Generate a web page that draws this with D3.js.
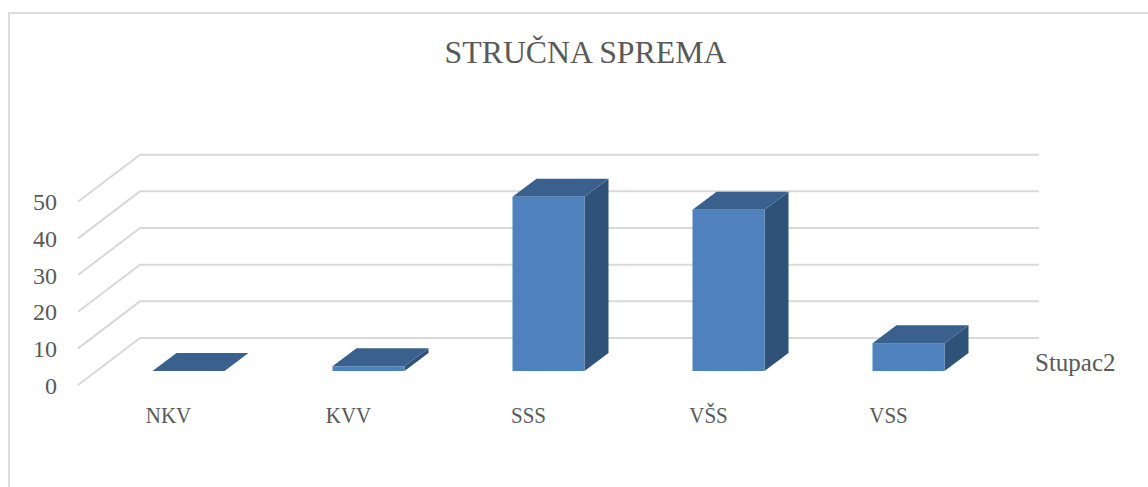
<!DOCTYPE html>
<html><head><meta charset="utf-8">
<style>html,body{margin:0;padding:0;background:#fff}svg{display:block}</style>
<script src="https://cdn.jsdelivr.net/npm/d3@7"></script></head><body>
<svg id="c" width="1148" height="487"></svg>
<script>
const categories = ["NKV","KVV","SSS","VŠS","VSS"];
const seriesValues = [0,1.3,47.5,44,7.6];
const yTicks = [0,10,20,30,40,50];
const titleText = "STRUČNA SPREMA";
const seriesName = "Stupac2";

const svg = d3.select("#c");
const grey="#595959", grid="#d9d9d9";
const serif="'Liberation Serif',serif";
const depth={dx:62,dy:-47}, bar={dx:24,dy:-18};
const y=d3.scaleLinear().domain([0,50]).range([385,201.7]);
const barBase=371, barY=v=>barBase-(y(0)-y(v));
const x=d3.scaleBand().domain(categories).range([98.5,998.5]).paddingInner(0.6).paddingOuter(0.3);

// frame
svg.append("path").attr("d","M9,487V13H1148").attr("fill","none").attr("stroke","#dcdcdc").attr("stroke-width",2);

// gridlines
const g=svg.append("g").attr("fill","none").attr("stroke",grid).attr("stroke-width",2);
g.selectAll("path").data(yTicks).join("path")
 .attr("d",d=>{const p=y(d);return `M78,${p}L${78+depth.dx},${p+depth.dy}H1039`;});

// bars
const b=svg.append("g").selectAll("g").data(categories).join("g");
b.each(function(c,i){
  const v=seriesValues[i],x0=x(c),x1=x0+x.bandwidth(),t=barY(v),s=d3.select(this);
  s.append("path").attr("fill","#2f5278")
   .attr("d",`M${x1},${barBase}L${x1+bar.dx},${barBase+bar.dy}V${t+bar.dy}L${x1},${t}Z`);
  s.append("path").attr("fill","#3a618e")
   .attr("d",`M${x0},${t}L${x0+bar.dx},${t+bar.dy}H${x1+bar.dx}L${x1},${t}Z`);
  s.append("rect").attr("x",x0).attr("y",t).attr("width",x.bandwidth()).attr("height",barBase-t).attr("fill","#4f81bd");
});

// y labels
svg.append("g").selectAll("text").data(yTicks).join("text")
 .attr("x",57).attr("y",d=>y(d)+8.5).attr("text-anchor","end")
 .attr("font-family",serif).attr("font-size",24).attr("fill",grey).text(d=>d);
// x labels
svg.append("g").selectAll("text").data(categories).join("text")
 .attr("transform",d=>`translate(${x(d)+16},423) scale(0.875,1)`).attr("text-anchor","middle")
 .attr("font-family",serif).attr("font-size",24).attr("fill",grey).text(d=>d);
svg.append("text").attr("x",1035).attr("y",371).attr("font-family",serif).attr("font-size",25).attr("fill",grey).text(seriesName);
svg.append("text").attr("x",585.5).attr("y",63).attr("text-anchor","middle").attr("font-family",serif).attr("font-size",31.8).attr("fill",grey).text(titleText);
</script></body></html>
